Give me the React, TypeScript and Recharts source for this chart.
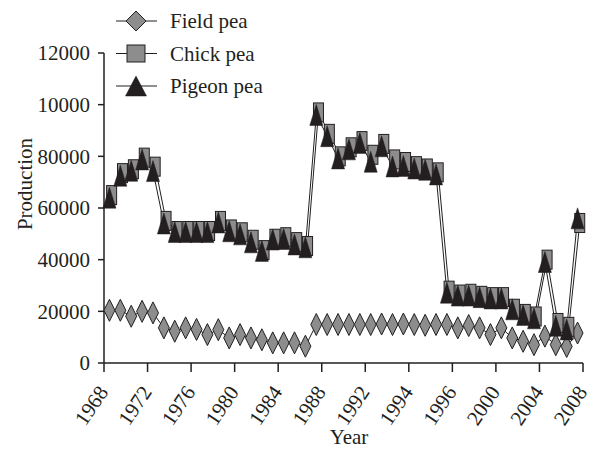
import React from "react";
import { LineChart, Line, XAxis, YAxis, Legend, Label } from "recharts";

// tick labels are printed as they appear in the source figure
const xTickLabels = ["1968", "1972", "1976", "1980", "1984", "1988", "1992", "1994", "1996", "2000", "2004", "2008"];
const yTickValues = [0, 20000, 40000, 60000, 80000, 100000, 120000];
const yTickLabels = ["0", "20000", "40000", "60000", "80000", "10000", "12000"];

const fieldPea = [
  20400, 20400, 18100, 20000, 19400, 13600, 12300, 13600, 13000, 11000, 12900, 9700, 11000, 9700, 9000,
  7800, 7800, 7800, 6500, 14900, 14900, 14900, 14900, 14900, 14900, 15100, 14900, 15100, 14900, 14600,
  14900, 14900, 13600, 14500, 13600, 11000, 13600, 9700, 8400, 7100, 10400, 7100, 6400, 11600,
];
const chickPea = [
  65000, 73500, 75000, 79500, 76000, 55000, 51100, 51100, 51100, 51100, 55000, 51700, 50600, 47700, 43700,
  48100, 48700, 46800, 45300, 97000, 88700, 80000, 83500, 85900, 80600, 84800, 78800, 77800, 76200, 75300,
  73800, 28000, 26500, 26800, 26000, 25500, 25500, 21000, 19000, 18000, 40000, 15500, 14000, 54200,
];
const pigeonPea = [
  64000, 72500, 74400, 78800, 74300, 54000, 50700, 50700, 50700, 50700, 54400, 51000, 49800, 46700, 43400,
  47800, 48000, 45900, 44800, 96000, 87800, 79200, 82700, 85200, 77900, 83900, 76100, 76300, 75300, 74800,
  73000, 27200, 26100, 26100, 25500, 25000, 25000, 20800, 18600, 17300, 39100, 14400, 13000, 56000,
];

const INK = "#231f20";
const GREY = "#8d8d8d";
const FONT = '"Liberation Serif", "Times New Roman", serif';

// one point per season, centred in its slot on an index axis
const data = fieldPea.map((v, i) => ({ t: i + 0.5, field: v, chick: chickPea[i], pigeon: pigeonPea[i] }));
const xTicks = xTickLabels.map((_, i) => i * 4);

function Diamond({ cx, cy, w = 11, h = 22 }: any) {
  return (
    <path
      d={`M${cx},${cy - h / 2}L${cx + w / 2},${cy}L${cx},${cy + h / 2}L${cx - w / 2},${cy}Z`}
      fill={GREY}
      stroke={INK}
      strokeWidth={1}
    />
  );
}

function Square({ cx, cy, w = 10, h = 19 }: any) {
  return <rect x={cx - w / 2} y={cy - h / 2} width={w} height={h} fill={GREY} stroke={INK} strokeWidth={1} />;
}

function Triangle({ cx, cy, w = 13, h = 21 }: any) {
  return (
    <path
      d={`M${cx},${cy - h / 2}L${cx + w / 2},${cy + h / 2}L${cx - w / 2},${cy + h / 2}Z`}
      fill={INK}
      stroke={INK}
      strokeWidth={0.5}
    />
  );
}

function XTick({ x, y, payload }: any) {
  const ax = x + 5;
  const ay = y + 18;
  return (
    <text
      x={ax}
      y={ay}
      transform={`rotate(-56 ${ax} ${ay})`}
      textAnchor="end"
      fontFamily={FONT}
      fontSize={21}
      fill={INK}
    >
      {xTickLabels[Math.round(payload.value / 4)]}
    </text>
  );
}

const legendItems = [
  { name: "Field pea", Marker: Diamond, size: { w: 20, h: 20 } },
  { name: "Chick pea", Marker: Square, size: { w: 18, h: 17 } },
  { name: "Pigeon pea", Marker: Triangle, size: { w: 21, h: 20 } },
];

function LegendBox() {
  return (
    <svg width={200} height={100}>
      {legendItems.map((it, i) => {
        const y = 21 + i * 32.5;
        return (
          <g key={it.name}>
            <line x1={6} x2={47} y1={y} y2={y} stroke={INK} strokeWidth={1.2} />
            <it.Marker cx={26} cy={y} {...it.size} />
            <text x={60} y={y} dominantBaseline="central" fontFamily={FONT} fontSize={21} fill={INK}>
              {it.name}
            </text>
          </g>
        );
      })}
    </svg>
  );
}

export default function App() {
  return (
    <div style={{ position: "absolute", left: 0, top: 0, width: 592, height: 450, background: "#fff" }}>
      <LineChart width={592} height={450} data={data} margin={{ top: 53, right: 9, bottom: 7, left: 0 }}>
        <XAxis
          xAxisId="main"
          dataKey="t"
          type="number"
          domain={[0, 44]}
          ticks={xTicks}
          interval={0}
          height={80}
          tickSize={9}
          tickMargin={2}
          axisLine={{ stroke: INK, strokeWidth: 1.5 }}
          tickLine={{ stroke: INK, strokeWidth: 1.5 }}
          tick={<XTick />}
        >
          <Label
            content={() => (
              <text x={349} y={444} textAnchor="middle" fontFamily={FONT} fontSize={21} fill={INK}>
                Year
              </text>
            )}
          />
        </XAxis>
        <XAxis xAxisId="shift" dataKey="t" type="number" domain={[-0.2, 43.8]} hide />
        <YAxis
          type="number"
          domain={[0, 120000]}
          ticks={yTickValues}
          interval={0}
          width={104}
          tickSize={6}
          tickMargin={8}
          axisLine={{ stroke: INK, strokeWidth: 1.5 }}
          tickLine={{ stroke: INK, strokeWidth: 1.5 }}
          tick={{ fontFamily: FONT, fontSize: 21, fill: INK }}
          tickFormatter={(v: number) => yTickLabels[yTickValues.indexOf(v)]}
        >
          <Label
            content={() => (
              <text
                x={25}
                y={184}
                transform="rotate(-90 25 184)"
                textAnchor="middle"
                dominantBaseline="central"
                fontFamily={FONT}
                fontSize={21}
                fill={INK}
              >
                Production
              </text>
            )}
          />
        </YAxis>
        <Legend
          layout="horizontal"
          verticalAlign="middle"
          align="center"
          content={() => <LegendBox />}
          wrapperStyle={{ top: 0, left: 110, width: 200, height: 100 }}
        />
        <Line
          xAxisId="main"
          dataKey="field"
          name="Field pea"
          stroke={INK}
          strokeWidth={1}
          isAnimationActive={false}
          dot={(p: any) => <Diamond key={`f${p.index}`} cx={p.cx} cy={p.cy} />}
        />
        <Line
          xAxisId="shift"
          dataKey="chick"
          name="Chick pea"
          stroke={INK}
          strokeWidth={1}
          isAnimationActive={false}
          dot={(p: any) => <Square key={`c${p.index}`} cx={p.cx} cy={p.cy} />}
        />
        <Line
          xAxisId="main"
          dataKey="pigeon"
          name="Pigeon pea"
          stroke={INK}
          strokeWidth={1}
          isAnimationActive={false}
          dot={(p: any) => <Triangle key={`p${p.index}`} cx={p.cx} cy={p.cy} />}
        />
      </LineChart>
    </div>
  );
}
